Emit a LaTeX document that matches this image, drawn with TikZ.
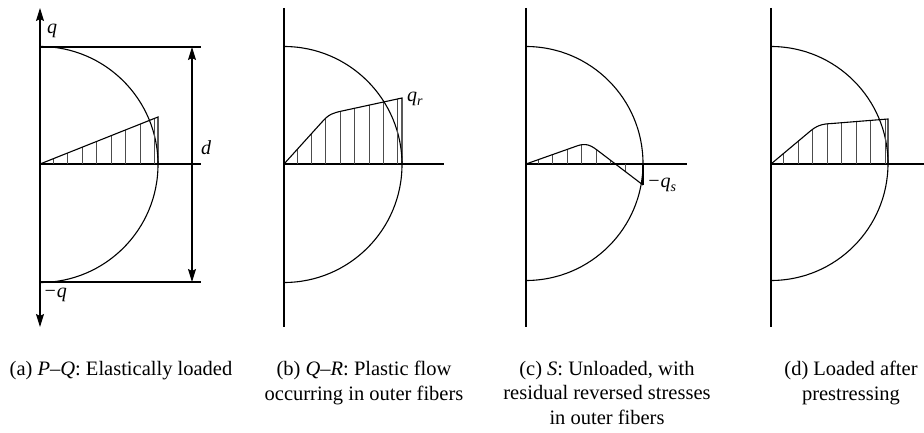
\documentclass[tikz,border=0pt]{standalone}
\usepackage{fontspec}
\setmainfont{Liberation Serif}
\usetikzlibrary{arrows.meta}
\newcommand{\subtxt}[1]{\raisebox{-0.22em}{\fontsize{14}{14}\selectfont #1}}
\begin{document}
\begin{tikzpicture}[x=1pt,y=-1pt,
  ln/.style={line width=1.1pt},
  thickline/.style={line width=1.7pt},
  hatch/.style={line width=0.7pt, black!70},
  arr/.style={{Stealth[length=13pt,width=8pt,inset=2pt]}-{Stealth[length=13pt,width=8pt,inset=2pt]}},
  lbl/.style={font=\fontsize{20}{24}\selectfont\itshape, inner sep=0pt},
  captext/.style={font=\fontsize{20.5}{24.5}\selectfont, align=center, anchor=north, inner sep=0pt}]
\useasboundingbox (0,0) rectangle (924,433);

% ---------------- panel (a)
\draw[ln, arr] (40,327) -- (40,8);
\draw[thickline] (40,47) -- (201,47);
\draw[thickline] (40,282) -- (201,282);
\draw[ln] (40,164) -- (201,164);
\draw[ln] (40,46.5) arc[start angle=-90, end angle=90, radius=118];
\begin{scope}
  \clip (40,164) -- (158,117) -- (158,164) -- cycle;
  \foreach \k in {0,...,7} \draw[hatch] ({53+14.5*\k},100) -- ({53+14.5*\k},170);
\end{scope}
\draw[ln] (40,164) -- (158,117) -- (158,164);
\coordinate (dtop) at (192,47);
\coordinate (dbot) at (192,282);
\draw[ln, arr] (dtop) -- (dbot);
\node[lbl] (dl) at (206,148) {d};
\node[lbl] (qt) at (52,31) {q};
\node[lbl] (qb) at (55,295) {−q};
\node[captext] (capa) at (121,361) {(a) \textit{P}–\textit{Q}: Elastically loaded};

% ---------------- panel (b)
\draw[ln] (284,8) -- (284,327);
\draw[ln] (284,164) -- (444,164);
\draw[ln] (284,46.5) arc[start angle=-90, end angle=90, radius=118];
\begin{scope}
  \clip (284,164) -- (322,122) .. controls (329,114) and (333,113) .. (342,111) -- (402,98) -- (402,164) -- cycle;
  \foreach \k in {0,...,7} \draw[hatch] ({297+14.4*\k},80) -- ({297+14.4*\k},170);
\end{scope}
\draw[ln] (284,164) -- (322,122) .. controls (329,114) and (333,113) .. (342,111) -- (402,98) -- (402,164);
\node[lbl, anchor=west] (qr) at (407,99) {q\subtxt{r}};
\node[captext] (capb) at (364,361) {(b) \textit{Q}–\textit{R}: Plastic flow\\occurring in outer fibers};

% ---------------- panel (c)
\draw[ln] (526,8) -- (526,327);
\draw[ln] (526,164) -- (687,164);
\draw[ln] (526,46.5) arc[start angle=-90, end angle=90, radius=117];
\begin{scope}
  \clip (526,164) -- (574,147) .. controls (583,143.5) and (588,143) .. (597,150) -- (643,185) -- (643,164) -- cycle;
  \foreach \k in {0,...,6} \draw[hatch] ({538+14.5*\k},120) -- ({538+14.5*\k},200);
\end{scope}
\draw[ln] (526,164) -- (574,147) .. controls (583,143.5) and (588,143) .. (597,150) -- (643,185);
\draw[line width=1.6pt] (643,164) -- (643,185);
\node[lbl, anchor=west] (qs) at (647,185) {−q\subtxt{s}};
\node[captext] (capc) at (607,361) {(c) \textit{S}: Unloaded, with\\residual reversed stresses\\in outer fibers};

% ---------------- panel (d)
\draw[ln] (771,8) -- (771,327);
\draw[ln] (771,164) -- (924,164);
\draw[ln] (771,46.5) arc[start angle=-90, end angle=90, radius=117];
\begin{scope}
  \clip (771,164) -- (808,133) .. controls (817,125) and (822,124) .. (832,123.5) -- (888,119) -- (888,164) -- cycle;
  \foreach \k in {0,...,7} \draw[hatch] ({783.5+14.5*\k},100) -- ({783.5+14.5*\k},170);
\end{scope}
\draw[ln] (771,164) -- (808,133) .. controls (817,125) and (822,124) .. (832,123.5) -- (888,119) -- (888,164);
\node[captext] (capd) at (851,361) {(d) Loaded after\\prestressing};
\end{tikzpicture}
\end{document}
